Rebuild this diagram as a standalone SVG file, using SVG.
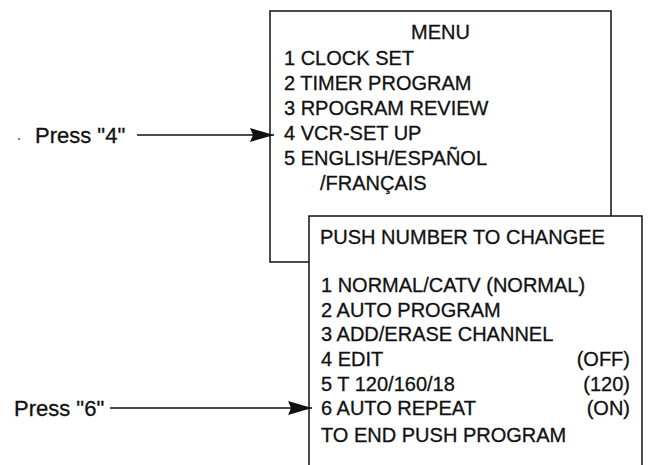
<svg xmlns="http://www.w3.org/2000/svg" width="648" height="465" viewBox="0 0 648 465">
  <style>
    .box { fill: #fff; stroke: #111; stroke-width: 1.5; }
    .t { font-family: "Liberation Sans", Arial, Helvetica, sans-serif; font-size: 20px; fill: #111; stroke: #111; stroke-width: 0.3; }
    .lbl { font-family: "Liberation Sans", Arial, Helvetica, sans-serif; font-size: 22px; fill: #111; stroke: #111; stroke-width: 0.3; }
    .conn { stroke: #111; stroke-width: 1.6; fill: none; }
  </style>
  <defs>
    <marker id="arrow" viewBox="0 0 24 14" refX="24" refY="7" markerWidth="24" markerHeight="14" markerUnits="userSpaceOnUse" orient="auto">
      <path d="M0,0 L24,7 L0,14 L3,7 Z" fill="#111"/>
    </marker>
  </defs>
  <rect width="648" height="465" fill="#fff"/>

  <g id="menu-box">
    <rect class="box" x="270" y="11" width="341" height="251"/>
    <text class="t" x="440.5" y="39" text-anchor="middle">MENU</text>
    <text class="t" x="284" y="65">1 CLOCK SET</text>
    <text class="t" x="284" y="90">2 TIMER PROGRAM</text>
    <text class="t" x="284" y="115">3 RPOGRAM REVIEW</text>
    <text class="t" x="284" y="140">4 VCR-SET UP</text>
    <text class="t" x="284" y="165">5 ENGLISH/ESPAÑOL</text>
    <text class="t" x="320" y="190">/FRANÇAIS</text>
  </g>

  <g id="setup-box">
    <path class="box" d="M309,470 L309,216 L642,216 L642,470"/>
    <text class="t" x="320" y="244">PUSH NUMBER TO CHANGEE</text>
    <text class="t" x="321" y="292">1 NORMAL/CATV (NORMAL)</text>
    <text class="t" x="321" y="317">2 AUTO PROGRAM</text>
    <text class="t" x="321" y="341">3 ADD/ERASE CHANNEL</text>
    <text class="t" x="321" y="366">4 EDIT</text>
    <text class="t" x="630" y="366" text-anchor="end">(OFF)</text>
    <text class="t" x="321" y="391">5 T 120/160/18</text>
    <text class="t" x="630" y="391" text-anchor="end">(120)</text>
    <text class="t" x="321" y="415">6 AUTO REPEAT</text>
    <text class="t" x="630" y="415" text-anchor="end">(ON)</text>
    <text class="t" x="321" y="442">TO END PUSH PROGRAM</text>
  </g>

  <g id="label-4">
    <circle cx="19" cy="139" r="1" fill="#555"/>
    <text class="lbl" x="35" y="143">Press "4"</text>
  </g>
  <g id="label-6">
    <text class="lbl" x="14" y="416">Press "6"</text>
  </g>

  <g id="connectors">
    <line class="conn" x1="137" y1="135" x2="274" y2="135" marker-end="url(#arrow)"/>
    <line class="conn" x1="110" y1="408" x2="312" y2="408" marker-end="url(#arrow)"/>
  </g>
</svg>
